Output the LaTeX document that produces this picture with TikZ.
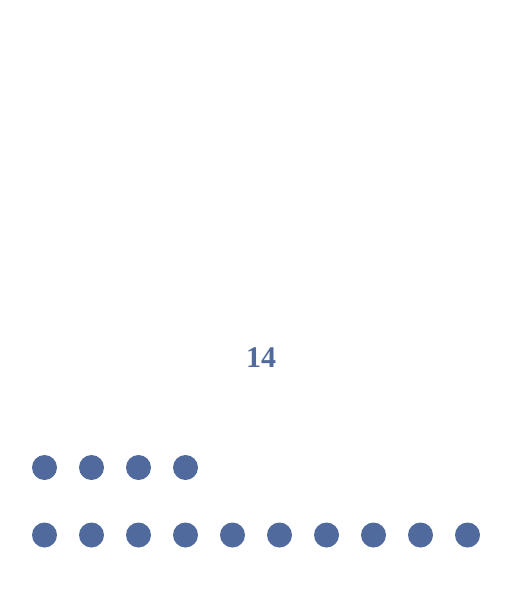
\documentclass[tikz,border=0pt]{standalone}
\usepackage{fontspec}
\newfontfamily\numfont{Liberation Serif}
\definecolor{dotblue}{RGB}{80,106,157}
\begin{document}
\begin{tikzpicture}[x=1pt,y=-1pt,
  dotc/.style={circle,fill=dotblue,inner sep=0pt,minimum size=25pt},
  numlabel/.style={text=dotblue,inner sep=0pt,font=\numfont\fontsize{30}{34}\selectfont\bfseries}]
\useasboundingbox (0,0) rectangle (512,589);
\node[numlabel,anchor=base] (num) at (261,367.3) {14};
\foreach \i in {0,...,3} {
  \node[dotc] (a\i) at ({44.5+47*\i},467.5) {};
}
\foreach \i in {0,...,9} {
  \node[dotc] (b\i) at ({44.5+47*\i},535) {};
}
\end{tikzpicture}
\end{document}
